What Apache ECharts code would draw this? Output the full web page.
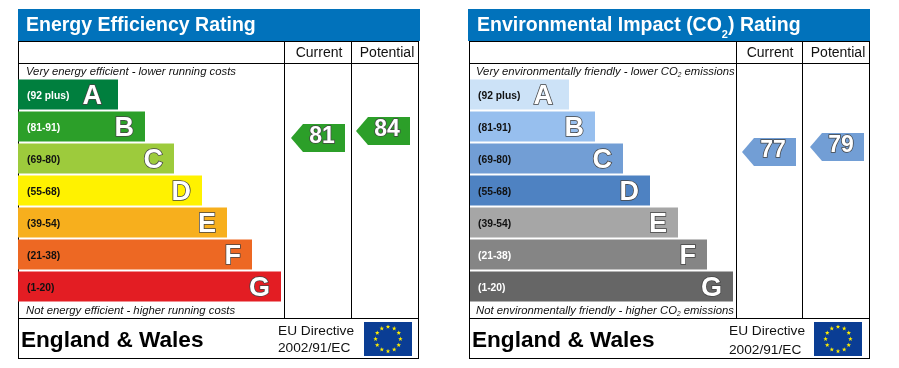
<!DOCTYPE html>
<html>
<head>
<meta charset="utf-8">
<style>
html,body{margin:0;padding:0;background:#fff}
#main{width:899px;height:368px}
</style>
<script src="https://cdn.jsdelivr.net/npm/echarts@6/dist/echarts.min.js"></script>
</head>
<body>
<div id="main"></div>
<script>
var ranges = ['(92 plus)','(81-91)','(69-80)','(55-68)','(39-54)','(21-38)','(1-20)'];
var letters = ['A','B','C','D','E','F','G'];
var columns = ['Current','Potential'];
// band lengths
var energyBands = [100,127,156,184,209,234,263];
var envBands = [99,125,153,180,208,237,263];
var energyColors = ['#007f3e','#2c9f29','#9dcb3c','#fff200','#f7af1d','#ed6823','#e31d23'];
var envColors = ['#cce2f7','#97bfee','#729ed5','#4e82c2','#a6a6a6','#858585','#666666'];
var energyRangeColors = ['#fff','#fff','#111','#111','#111','#111','#111'];
var envRangeColors = ['#111','#111','#111','#111','#111','#fff','#fff'];
var energyScores = [81,84];
var envScores = [77,79];
var energyScoreColors = ['#2c9f29','#2c9f29'];
var envScoreColors = ['#729ed5','#729ed5'];

var font = '"Liberation Sans", Arial, sans-serif';
var myChart = echarts.init(document.getElementById('main'), null, {renderer:'canvas'});

function txt(x, y, text, size, weight, style, color, rich){
  return {
    type:'text', x:x, y:y, z:3, silent:true,
    style:{
      text:text, fontFamily:font, fontSize:size, fontWeight:weight, fontStyle:style,
      fill:color, verticalAlign:'middle', rich:rich
    }
  };
}
function box(x, y, w, h, color){
  return {type:'rect', silent:true, z:1, shape:{x:x,y:y,width:w,height:h}, style:{fill:color}};
}
// the 12 stars of the flag
function flag(x, y){
  var list = [box(x,y,48,34,'#0a3d94')];
  var cx = x+24, cy = y+17;
  for(var i=0;i<12;i++){
    var a = i*Math.PI/6;
    var sx = cx+12.4*Math.sin(a), sy = cy-12.2*Math.cos(a);
    var pts = [];
    for(var j=0;j<10;j++){
      var r = j%2==0 ? 2.4 : 1;
      var b = j*Math.PI/5;
      pts.push([sx+r*Math.sin(b), sy-r*Math.cos(b)]);
    }
    list.push({type:'polygon', silent:true, z:2, shape:{points:pts}, style:{fill:'#ffed00'}});
  }
  return list;
}
function frame(x0, x1, x2, x3, hx0, hw){
  return [
    box(hx0,9,hw,32,'#0172bb'),
    box(x0,41,x3-x0+1,1,'#000'),
    box(x0,63,x3-x0+1,1,'#000'),
    box(x0,318,x3-x0+1,1,'#000'),
    box(x0,358,x3-x0+1,1,'#000'),
    box(x0,41,1,318,'#000'),
    box(x1,41,1,277,'#000'),
    box(x2,41,1,277,'#000'),
    box(x3,41,1,318,'#000')
  ];
}

var subRich = {
  n:{fontFamily:font,fontSize:11.3,fontStyle:'italic',fill:'#111'},
  s:{fontFamily:font,fontSize:6.5,fontStyle:'italic',fill:'#111',verticalAlign:'bottom',lineHeight:14}
};
var titleRich = {
  n:{fontFamily:font,fontSize:19.5,fontWeight:'bold',fill:'#fff'},
  s:{fontFamily:font,fontSize:11,fontWeight:'bold',fill:'#fff',verticalAlign:'bottom',lineHeight:29}
};

var elements = []
  .concat(frame(18,284,351,418,18,402))
  .concat(frame(469,736,802,869,468,402))
  .concat(flag(364,322))
  .concat(flag(814,322))
  .concat([
    txt(26,26,'Energy Efficiency Rating',19.5,'bold','normal','#fff'),
    txt(477,26,'{n|Environmental Impact (CO}{s|2}{n|) Rating}',19.5,'bold','normal','#fff',titleRich),
    txt(26,72,'Very energy efficient - lower running costs',11.3,'normal','italic','#111'),
    txt(26,311,'Not energy efficient - higher running costs',11.3,'normal','italic','#111'),
    txt(476,72,'{n|Very environmentally friendly - lower CO}{s|2}{n| emissions}',11.3,'normal','italic','#111',subRich),
    txt(476,311,'{n|Not environmentally friendly - higher CO}{s|2}{n| emissions}',11.3,'normal','italic','#111',subRich),
    txt(21,341,'England & Wales',22.6,'bold','normal','#000'),
    txt(472,341,'England & Wales',22.6,'bold','normal','#000'),
    txt(278,331,'EU Directive',13.7,'normal','normal','#111'),
    txt(278,348,'2002/91/EC',13.7,'normal','normal','#111'),
    txt(729,331,'EU Directive',13.7,'normal','normal','#111'),
    txt(729,350,'2002/91/EC',13.7,'normal','normal','#111')
  ]);

function bandX(i){
  return {type:'value', gridIndex:i, min:0, max:266, show:false};
}
function bandY(i){
  return {
    type:'category', gridIndex:i, inverse:true, data:ranges,
    axisLine:{show:false}, axisTick:{show:false}, splitLine:{show:false},
    axisLabel:{show:false}
  };
}
function scoreX(i){
  return {
    type:'category', gridIndex:i, position:'top', data:columns,
    axisLine:{show:false}, axisTick:{show:false}, splitLine:{show:false},
    axisLabel:{margin:3, fontFamily:font, fontSize:14, color:'#111', interval:0}
  };
}
function scoreY(i, min, max){
  return {type:'value', gridIndex:i, min:min, max:max, show:false};
}
function bandSeries(i, values, colors){
  return {
    type:'bar', xAxisIndex:i, yAxisIndex:i, barWidth:30, barGap:'-100%', z:3,
    data:values.map(function(v, idx){
      return {
        value:v, itemStyle:{color:colors[idx]},
        label:{offset: idx==0 ? [-5,2] : [0,2]}
      };
    }),
    label:{
      show:true, position:'insideRight', distance:11,
      fontFamily:font, fontSize:27, fontWeight:'bold', color:'#fff',
      textBorderColor:'#444', textBorderWidth:1.5,
      formatter:function(p){ return letters[p.dataIndex]; }
    }
  };
}
// see-through copy of the bars, only carries the range text at the left end
function rangeSeries(i, values, colors, margin){
  return {
    type:'bar', xAxisIndex:i, yAxisIndex:i, barWidth:30, barGap:'-100%', z:3,
    itemStyle:{color:'transparent'},
    data:values.map(function(v, idx){
      return {value:v, label:{color:colors[idx]}};
    }),
    label:{
      show:true, position:'insideLeft', distance:margin, offset:[0,2],
      fontFamily:font, fontSize:10.3, fontWeight:'bold',
      formatter:function(p){ return p.name; }
    }
  };
}
function scoreSeries(i, values, colors, shifts){
  return {
    type:'scatter', xAxisIndex:i, yAxisIndex:i, z:4,
    symbol:'path://M0 14L12 0H54V28H12Z', symbolSize:[54,28], symbolKeepAspect:false,
    data:values.map(function(v, idx){
      return {value:[idx,v], symbolOffset:[shifts[idx],0], itemStyle:{color:colors[idx],opacity:1}};
    }),
    label:{
      show:true, position:'inside', offset:[4,-1],
      fontFamily:font, fontSize:23, fontWeight:'bold', color:'#fff',
      textBorderColor:'#444', textBorderWidth:1.5,
      formatter:function(p){ return p.value[1]; }
    }
  };
}

var option = {
  animation:false,
  backgroundColor:'#fff',
  graphic:{elements:elements},
  grid:[
    {left:18, top:78.5, width:266, height:224},
    {left:285, top:63, width:136, height:255},
    {left:470, top:78.5, width:266, height:224},
    {left:736, top:63, width:136, height:255}
  ],
  xAxis:[bandX(0), scoreX(1), bandX(2), scoreX(3)],
  yAxis:[
    bandY(0),
    scoreY(1, 3.86, 113.14),
    bandY(2),
    scoreY(3, 10.6, 112.6)
  ],
  series:[
    bandSeries(0, energyBands, energyColors),
    rangeSeries(0, energyBands, energyRangeColors, 9),
    scoreSeries(1, energyScores, energyScoreColors, [-1,-4]),
    bandSeries(2, envBands, envColors),
    rangeSeries(2, envBands, envRangeColors, 8),
    scoreSeries(3, envScores, envScoreColors, [-1,-1])
  ]
};
myChart.setOption(option);
</script>
</body>
</html>
